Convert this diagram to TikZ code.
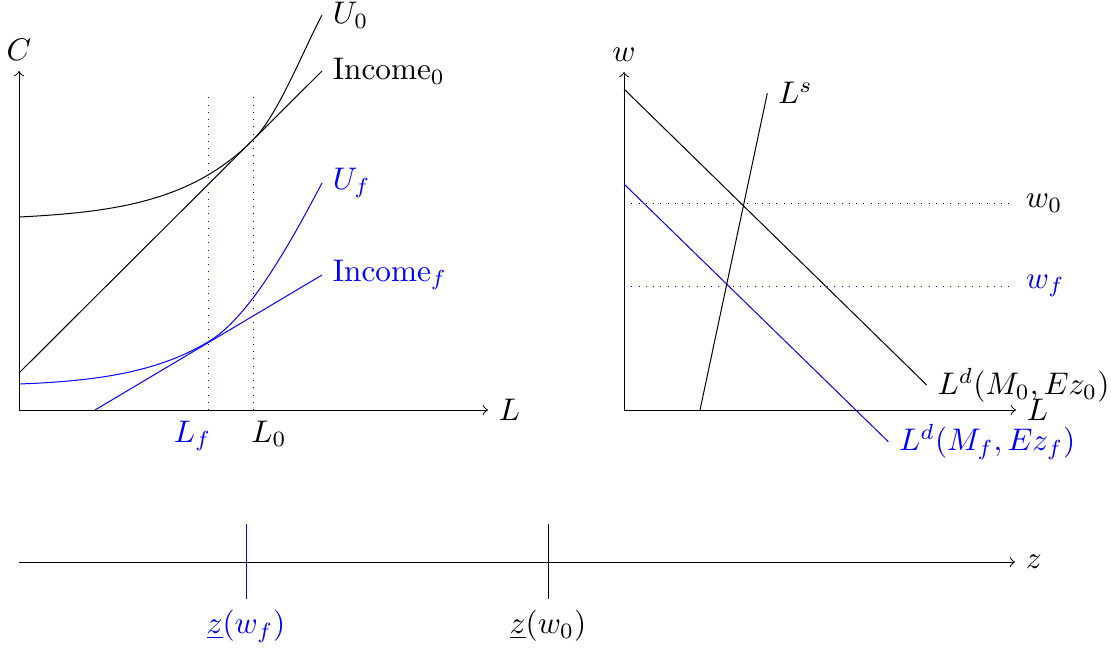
\documentclass[tikz,border=0pt]{standalone}
\begin{document}
\begin{tikzpicture}[x=0.32pt,y=0.32pt,line width=0.32pt,
  axisline/.style={->},
  guide/.style={dotted},
  curve/.style={},
  hi/.style={blue}]
\useasboundingbox (0,0) rectangle (1111,651);
% ---------- left panel ----------
\coordinate (O1) at (19,241);
\coordinate (Ctop) at (19,580);
\coordinate (L1end) at (488,241);
\draw[axisline] (O1) -- (Ctop) node[above] (Clab) {$C$};
\draw[axisline] (O1) -- (L1end) node[right] (L1lab) {$L$};
% income lines
\coordinate (I0a) at (19,278);
\coordinate (I0b) at (322,580);
\draw[curve] (I0a) -- (I0b) node[right] (I0lab) {Income$_0$};
\coordinate (Ifa) at (95,241);
\coordinate (Ifb) at (322,376);
\draw[curve,hi] (Ifa) -- (Ifb) node[right] (Iflab) {Income$_f$};
% indifference curves
\coordinate (U0a) at (19,434);
\coordinate (T0) at (253,511);
\coordinate (U0b) at (322,636);
\draw[curve] (U0a) .. controls (119,439) and (193,451) .. (T0)
   .. controls (278,536) and (302,598) .. (U0b) node[right] (U0lab) {$U_0$};
\coordinate (Ufa) at (19,267);
\coordinate (Tf) at (208,309);
\coordinate (Ufb) at (322,468);
\draw[curve,hi] (Ufa) .. controls (99,270) and (158,279.3) .. (Tf)
   .. controls (248,332.8) and (287,401.5) .. (Ufb) node[right] (Uflab) {$U_f$};
% guides
\coordinate (Lfa) at (208,241);
\coordinate (Lfb) at (208,558);
\coordinate (L0a) at (253,241);
\coordinate (L0b) at (253,558);
\draw[guide,hi] (Lfa) -- (Lfb);
\draw[guide] (L0a) -- (L0b);
\node[hi,anchor=north] (Lflab) at (192.5,241) {$L_f$};
\node[anchor=north] (L0lab) at (269,241) {$L_0$};
% ---------- right panel ----------
\coordinate (O2) at (624,241);
\coordinate (wtop) at (624,579);
\coordinate (L2end) at (1016,241);
\draw[axisline] (O2) -- (wtop) node[above] (wlab) {$w$};
\draw[axisline] (O2) -- (L2end) node[right] (L2lab) {$L$};
\coordinate (D0a) at (624,562);
\coordinate (D0b) at (926.7,266);
\draw[curve] (D0a) -- (D0b) node[right] (D0lab) {$L^d(M_0,Ez_0)$};
\coordinate (Dfa) at (624,467);
\coordinate (Dfb) at (888.3,209.3);
\draw[curve,hi] (Dfa) -- (Dfb) node[right] (Dflab) {$L^d(M_f,Ez_f)$};
\coordinate (Sa) at (700,241);
\coordinate (Sb) at (767.3,557.7);
\draw[curve] (Sa) -- (Sb) node[right] (Slab) {$L^s$};
\coordinate (w0a) at (624,448);
\coordinate (w0b) at (1015,448);
\draw[guide] (w0a) -- (w0b) node[right] (w0lab) {$w_0$};
\coordinate (wfa) at (624,365);
\coordinate (wfb) at (1015,365);
\draw[guide,hi] (wfa) -- (wfb) node[right] (wflab) {$w_f$};
% ---------- bottom axis ----------
\coordinate (Za) at (19,89);
\coordinate (Zb) at (1015,89);
\draw[axisline] (Za) -- (Zb) node[right] (zlab) {$z$};
\coordinate (zfa) at (246,127);
\coordinate (zfb) at (246,52);
\draw[hi] (zfa) -- (zfb) node[below] (zflab) {$\underline{z}(w_f)$};
\coordinate (z0a) at (548,127);
\coordinate (z0b) at (548,52);
\draw (z0a) -- (z0b) node[below] (z0lab) {$\underline{z}(w_0)$};
\end{tikzpicture}
\end{document}
